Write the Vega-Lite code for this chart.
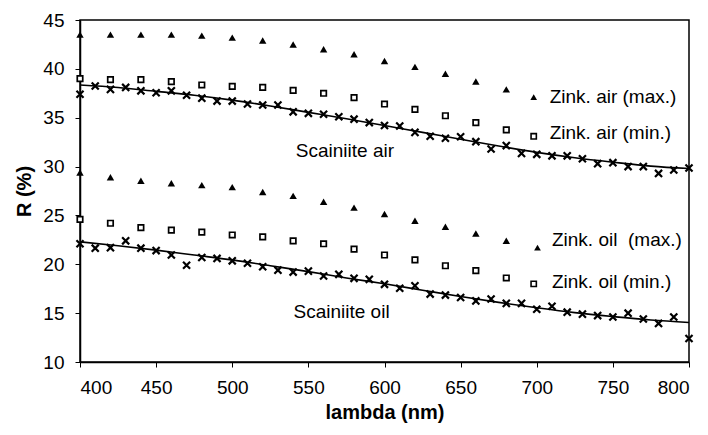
{
  "$schema": "https://vega.github.io/schema/vega-lite/v6.json",
  "width": 609,
  "height": 342,
  "autosize": "none",
  "padding": {"left": 80, "top": 20, "right": 19, "bottom": 73},
  "background": "white",
  "config": {
    "font": "Liberation Sans",
    "view": {"stroke": "black", "strokeWidth": 1.5},
    "axis": {"grid": false, "domainColor": "black", "domainWidth": 1.5, "tickColor": "black", "tickSize": 5, "labelFontSize": 19, "labelColor": "black", "titleFontSize": 20, "titleFontWeight": "bold", "titleColor": "black", "labelFont": "Liberation Sans", "titleFont": "Liberation Sans"}
  },
  "datasets": {
    "pts": [
      {"series": "air max", "lambda": 400, "R": 43.5},
      {"series": "air max", "lambda": 420, "R": 43.5},
      {"series": "air max", "lambda": 440, "R": 43.5},
      {"series": "air max", "lambda": 460, "R": 43.5},
      {"series": "air max", "lambda": 480, "R": 43.4},
      {"series": "air max", "lambda": 500, "R": 43.2},
      {"series": "air max", "lambda": 520, "R": 42.9},
      {"series": "air max", "lambda": 540, "R": 42.5},
      {"series": "air max", "lambda": 560, "R": 42.0},
      {"series": "air max", "lambda": 580, "R": 41.5},
      {"series": "air max", "lambda": 600, "R": 40.8},
      {"series": "air max", "lambda": 620, "R": 40.2},
      {"series": "air max", "lambda": 640, "R": 39.5},
      {"series": "air max", "lambda": 660, "R": 38.7},
      {"series": "air max", "lambda": 680, "R": 37.9},
      {"series": "air min", "lambda": 400, "R": 39.0},
      {"series": "air min", "lambda": 420, "R": 38.9},
      {"series": "air min", "lambda": 440, "R": 38.9},
      {"series": "air min", "lambda": 460, "R": 38.7},
      {"series": "air min", "lambda": 480, "R": 38.35},
      {"series": "air min", "lambda": 500, "R": 38.2},
      {"series": "air min", "lambda": 520, "R": 38.1},
      {"series": "air min", "lambda": 540, "R": 37.8},
      {"series": "air min", "lambda": 560, "R": 37.5},
      {"series": "air min", "lambda": 580, "R": 37.05},
      {"series": "air min", "lambda": 600, "R": 36.4},
      {"series": "air min", "lambda": 620, "R": 35.85},
      {"series": "air min", "lambda": 640, "R": 35.2},
      {"series": "air min", "lambda": 660, "R": 34.5},
      {"series": "air min", "lambda": 680, "R": 33.75},
      {"series": "oil max", "lambda": 400, "R": 29.4},
      {"series": "oil max", "lambda": 420, "R": 28.9},
      {"series": "oil max", "lambda": 440, "R": 28.55},
      {"series": "oil max", "lambda": 460, "R": 28.3},
      {"series": "oil max", "lambda": 480, "R": 28.1},
      {"series": "oil max", "lambda": 500, "R": 27.9},
      {"series": "oil max", "lambda": 520, "R": 27.4},
      {"series": "oil max", "lambda": 540, "R": 27.0},
      {"series": "oil max", "lambda": 560, "R": 26.4},
      {"series": "oil max", "lambda": 580, "R": 25.8},
      {"series": "oil max", "lambda": 600, "R": 25.15},
      {"series": "oil max", "lambda": 620, "R": 24.45},
      {"series": "oil max", "lambda": 640, "R": 23.85},
      {"series": "oil max", "lambda": 660, "R": 23.15},
      {"series": "oil max", "lambda": 680, "R": 22.4},
      {"series": "oil min", "lambda": 400, "R": 24.6},
      {"series": "oil min", "lambda": 420, "R": 24.2},
      {"series": "oil min", "lambda": 440, "R": 23.75},
      {"series": "oil min", "lambda": 460, "R": 23.5},
      {"series": "oil min", "lambda": 480, "R": 23.3},
      {"series": "oil min", "lambda": 500, "R": 23.0},
      {"series": "oil min", "lambda": 520, "R": 22.8},
      {"series": "oil min", "lambda": 540, "R": 22.4},
      {"series": "oil min", "lambda": 560, "R": 22.1},
      {"series": "oil min", "lambda": 580, "R": 21.55},
      {"series": "oil min", "lambda": 600, "R": 20.95},
      {"series": "oil min", "lambda": 620, "R": 20.45},
      {"series": "oil min", "lambda": 640, "R": 19.85},
      {"series": "oil min", "lambda": 660, "R": 19.35},
      {"series": "oil min", "lambda": 680, "R": 18.6}
    ],
    "cross": [
      {"series": "Scainiite air", "lambda": 400, "R": 37.4},
      {"series": "Scainiite air", "lambda": 410, "R": 38.25},
      {"series": "Scainiite air", "lambda": 420, "R": 37.9},
      {"series": "Scainiite air", "lambda": 430, "R": 38.1},
      {"series": "Scainiite air", "lambda": 440, "R": 37.75},
      {"series": "Scainiite air", "lambda": 450, "R": 37.55},
      {"series": "Scainiite air", "lambda": 460, "R": 37.75},
      {"series": "Scainiite air", "lambda": 470, "R": 37.3},
      {"series": "Scainiite air", "lambda": 480, "R": 37.0},
      {"series": "Scainiite air", "lambda": 490, "R": 36.7},
      {"series": "Scainiite air", "lambda": 500, "R": 36.7},
      {"series": "Scainiite air", "lambda": 510, "R": 36.4},
      {"series": "Scainiite air", "lambda": 520, "R": 36.3},
      {"series": "Scainiite air", "lambda": 530, "R": 36.3},
      {"series": "Scainiite air", "lambda": 540, "R": 35.6},
      {"series": "Scainiite air", "lambda": 550, "R": 35.45},
      {"series": "Scainiite air", "lambda": 560, "R": 35.35},
      {"series": "Scainiite air", "lambda": 570, "R": 35.1},
      {"series": "Scainiite air", "lambda": 580, "R": 34.85},
      {"series": "Scainiite air", "lambda": 590, "R": 34.5},
      {"series": "Scainiite air", "lambda": 600, "R": 34.2},
      {"series": "Scainiite air", "lambda": 610, "R": 34.15},
      {"series": "Scainiite air", "lambda": 620, "R": 33.5},
      {"series": "Scainiite air", "lambda": 630, "R": 33.1},
      {"series": "Scainiite air", "lambda": 640, "R": 32.9},
      {"series": "Scainiite air", "lambda": 650, "R": 33.05},
      {"series": "Scainiite air", "lambda": 660, "R": 32.55},
      {"series": "Scainiite air", "lambda": 670, "R": 31.8},
      {"series": "Scainiite air", "lambda": 680, "R": 32.15},
      {"series": "Scainiite air", "lambda": 690, "R": 31.35},
      {"series": "Scainiite air", "lambda": 700, "R": 31.25},
      {"series": "Scainiite air", "lambda": 710, "R": 31.1},
      {"series": "Scainiite air", "lambda": 720, "R": 31.1},
      {"series": "Scainiite air", "lambda": 730, "R": 30.8},
      {"series": "Scainiite air", "lambda": 740, "R": 30.3},
      {"series": "Scainiite air", "lambda": 750, "R": 30.4},
      {"series": "Scainiite air", "lambda": 760, "R": 30.0},
      {"series": "Scainiite air", "lambda": 770, "R": 30.0},
      {"series": "Scainiite air", "lambda": 780, "R": 29.3},
      {"series": "Scainiite air", "lambda": 790, "R": 29.65},
      {"series": "Scainiite air", "lambda": 800, "R": 29.85},
      {"series": "Scainiite oil", "lambda": 400, "R": 22.1},
      {"series": "Scainiite oil", "lambda": 410, "R": 21.65},
      {"series": "Scainiite oil", "lambda": 420, "R": 21.7},
      {"series": "Scainiite oil", "lambda": 430, "R": 22.4},
      {"series": "Scainiite oil", "lambda": 440, "R": 21.65},
      {"series": "Scainiite oil", "lambda": 450, "R": 21.4},
      {"series": "Scainiite oil", "lambda": 460, "R": 20.95},
      {"series": "Scainiite oil", "lambda": 470, "R": 19.9},
      {"series": "Scainiite oil", "lambda": 480, "R": 20.7},
      {"series": "Scainiite oil", "lambda": 490, "R": 20.6},
      {"series": "Scainiite oil", "lambda": 500, "R": 20.35},
      {"series": "Scainiite oil", "lambda": 510, "R": 20.1},
      {"series": "Scainiite oil", "lambda": 520, "R": 19.75},
      {"series": "Scainiite oil", "lambda": 530, "R": 19.4},
      {"series": "Scainiite oil", "lambda": 540, "R": 19.2},
      {"series": "Scainiite oil", "lambda": 550, "R": 19.3},
      {"series": "Scainiite oil", "lambda": 560, "R": 18.8},
      {"series": "Scainiite oil", "lambda": 570, "R": 18.97},
      {"series": "Scainiite oil", "lambda": 580, "R": 18.56},
      {"series": "Scainiite oil", "lambda": 590, "R": 18.46},
      {"series": "Scainiite oil", "lambda": 600, "R": 17.95},
      {"series": "Scainiite oil", "lambda": 610, "R": 17.55},
      {"series": "Scainiite oil", "lambda": 620, "R": 17.8},
      {"series": "Scainiite oil", "lambda": 630, "R": 16.95},
      {"series": "Scainiite oil", "lambda": 640, "R": 16.85},
      {"series": "Scainiite oil", "lambda": 650, "R": 16.6},
      {"series": "Scainiite oil", "lambda": 660, "R": 16.25},
      {"series": "Scainiite oil", "lambda": 670, "R": 16.45},
      {"series": "Scainiite oil", "lambda": 680, "R": 16.0},
      {"series": "Scainiite oil", "lambda": 690, "R": 16.0},
      {"series": "Scainiite oil", "lambda": 700, "R": 15.4},
      {"series": "Scainiite oil", "lambda": 710, "R": 15.7},
      {"series": "Scainiite oil", "lambda": 720, "R": 15.1},
      {"series": "Scainiite oil", "lambda": 730, "R": 14.9},
      {"series": "Scainiite oil", "lambda": 740, "R": 14.75},
      {"series": "Scainiite oil", "lambda": 750, "R": 14.6},
      {"series": "Scainiite oil", "lambda": 760, "R": 15.0},
      {"series": "Scainiite oil", "lambda": 770, "R": 14.4},
      {"series": "Scainiite oil", "lambda": 780, "R": 13.95},
      {"series": "Scainiite oil", "lambda": 790, "R": 14.6},
      {"series": "Scainiite oil", "lambda": 800, "R": 12.4}
    ],
    "fit": [
      {"series": "air", "lambda": 400, "R": 38.35},
      {"series": "air", "lambda": 425, "R": 38.1},
      {"series": "air", "lambda": 450, "R": 37.7},
      {"series": "air", "lambda": 475, "R": 37.3},
      {"series": "air", "lambda": 500, "R": 36.8},
      {"series": "air", "lambda": 525, "R": 36.2},
      {"series": "air", "lambda": 550, "R": 35.55},
      {"series": "air", "lambda": 575, "R": 34.9},
      {"series": "air", "lambda": 600, "R": 34.2},
      {"series": "air", "lambda": 625, "R": 33.5},
      {"series": "air", "lambda": 650, "R": 32.8},
      {"series": "air", "lambda": 675, "R": 32.1},
      {"series": "air", "lambda": 700, "R": 31.45},
      {"series": "air", "lambda": 725, "R": 30.9},
      {"series": "air", "lambda": 750, "R": 30.45},
      {"series": "air", "lambda": 775, "R": 30.05},
      {"series": "air", "lambda": 800, "R": 29.8},
      {"series": "oil", "lambda": 400, "R": 22.3},
      {"series": "oil", "lambda": 425, "R": 21.9},
      {"series": "oil", "lambda": 450, "R": 21.45},
      {"series": "oil", "lambda": 475, "R": 20.95},
      {"series": "oil", "lambda": 500, "R": 20.45},
      {"series": "oil", "lambda": 525, "R": 19.85},
      {"series": "oil", "lambda": 550, "R": 19.25},
      {"series": "oil", "lambda": 575, "R": 18.6},
      {"series": "oil", "lambda": 600, "R": 18.0},
      {"series": "oil", "lambda": 625, "R": 17.35},
      {"series": "oil", "lambda": 650, "R": 16.7},
      {"series": "oil", "lambda": 675, "R": 16.1},
      {"series": "oil", "lambda": 700, "R": 15.55},
      {"series": "oil", "lambda": 725, "R": 15.05},
      {"series": "oil", "lambda": 750, "R": 14.65},
      {"series": "oil", "lambda": 775, "R": 14.3},
      {"series": "oil", "lambda": 800, "R": 14.05}
    ],
    "legend": [
      {"label": "Zink. air (max.)", "kind": "tri", "sx": 698, "sy": 37.1, "tx": 708.5, "ty": 37.15},
      {"label": "Zink. air (min.)", "kind": "sq", "sx": 698, "sy": 33.1, "tx": 708.5, "ty": 33.45},
      {"label": "Zink. oil\u00a0 (max.)", "kind": "tri", "sx": 700.5, "sy": 21.7, "tx": 710, "ty": 22.5},
      {"label": "Zink. oil (min.)", "kind": "sq", "sx": 698, "sy": 18.0, "tx": 710, "ty": 18.2}
    ],
    "notes": [
      {"label": "Scainiite air", "lambda": 574, "R": 31.6},
      {"label": "Scainiite oil", "lambda": 571.8, "R": 15.14}
    ]
  },
  "encoding": {
    "x": {"type": "quantitative"},
    "y": {"type": "quantitative"}
  },
  "layer": [
    {
      "data": {"name": "fit"},
      "mark": {"type": "line", "color": "black", "strokeWidth": 1.6, "interpolate": "monotone"},
      "encoding": {
        "x": {"field": "lambda", "type": "quantitative", "scale": {"domain": [400, 800], "nice": false}, "axis": {"title": "lambda (nm)", "values": [400, 450, 500, 550, 600, 650, 700, 750, 800], "labelPadding": 11, "titlePadding": 5}},
        "y": {"field": "R", "type": "quantitative", "scale": {"domain": [10, 45], "nice": false}, "axis": {"title": "R (%)", "values": [10, 15, 20, 25, 30, 35, 40, 45], "labelPadding": 11, "titlePadding": 8}},
        "detail": {"field": "series"}
      }
    },
    {
      "data": {"name": "cross"},
      "mark": {"type": "point", "shape": "M-1,-1L1,1M-1,1L1,-1", "size": 50, "stroke": "black", "strokeWidth": 2.2, "filled": false, "opacity": 1},
      "encoding": {"x": {"field": "lambda", "type": "quantitative"}, "y": {"field": "R", "type": "quantitative"}}
    },
    {
      "data": {"name": "pts"},
      "transform": [{"filter": "indexof(datum.series, 'max') >= 0"}],
      "mark": {"type": "point", "shape": "triangle-up", "size": 55, "fill": "black", "filled": true, "strokeWidth": 0, "opacity": 1},
      "encoding": {"x": {"field": "lambda", "type": "quantitative"}, "y": {"field": "R", "type": "quantitative"}}
    },
    {
      "data": {"name": "pts"},
      "transform": [{"filter": "indexof(datum.series, 'min') >= 0"}],
      "mark": {"type": "point", "shape": "square", "size": 30, "fill": "white", "stroke": "black", "strokeWidth": 1.7, "filled": false, "opacity": 1},
      "encoding": {"x": {"field": "lambda", "type": "quantitative"}, "y": {"field": "R", "type": "quantitative"}}
    },
    {
      "data": {"name": "legend"},
      "transform": [{"filter": "datum.kind == 'tri'"}],
      "mark": {"type": "point", "shape": "triangle-up", "size": 45, "fill": "black", "filled": true, "strokeWidth": 0, "opacity": 1},
      "encoding": {"x": {"field": "sx", "type": "quantitative"}, "y": {"field": "sy", "type": "quantitative"}}
    },
    {
      "data": {"name": "legend"},
      "transform": [{"filter": "datum.kind == 'sq'"}],
      "mark": {"type": "point", "shape": "square", "size": 28, "fill": "white", "stroke": "black", "strokeWidth": 1.6, "filled": false, "opacity": 1},
      "encoding": {"x": {"field": "sx", "type": "quantitative"}, "y": {"field": "sy", "type": "quantitative"}}
    },
    {
      "data": {"name": "legend"},
      "mark": {"type": "text", "align": "left", "baseline": "middle", "fontSize": 19, "font": "Liberation Sans", "color": "black"},
      "encoding": {"x": {"field": "tx", "type": "quantitative"}, "y": {"field": "ty", "type": "quantitative"}, "text": {"field": "label"}}
    },
    {
      "data": {"name": "notes"},
      "mark": {"type": "text", "align": "center", "baseline": "middle", "fontSize": 19, "font": "Liberation Sans", "color": "black"},
      "encoding": {"x": {"field": "lambda", "type": "quantitative"}, "y": {"field": "R", "type": "quantitative"}, "text": {"field": "label"}}
    }
  ]
}
